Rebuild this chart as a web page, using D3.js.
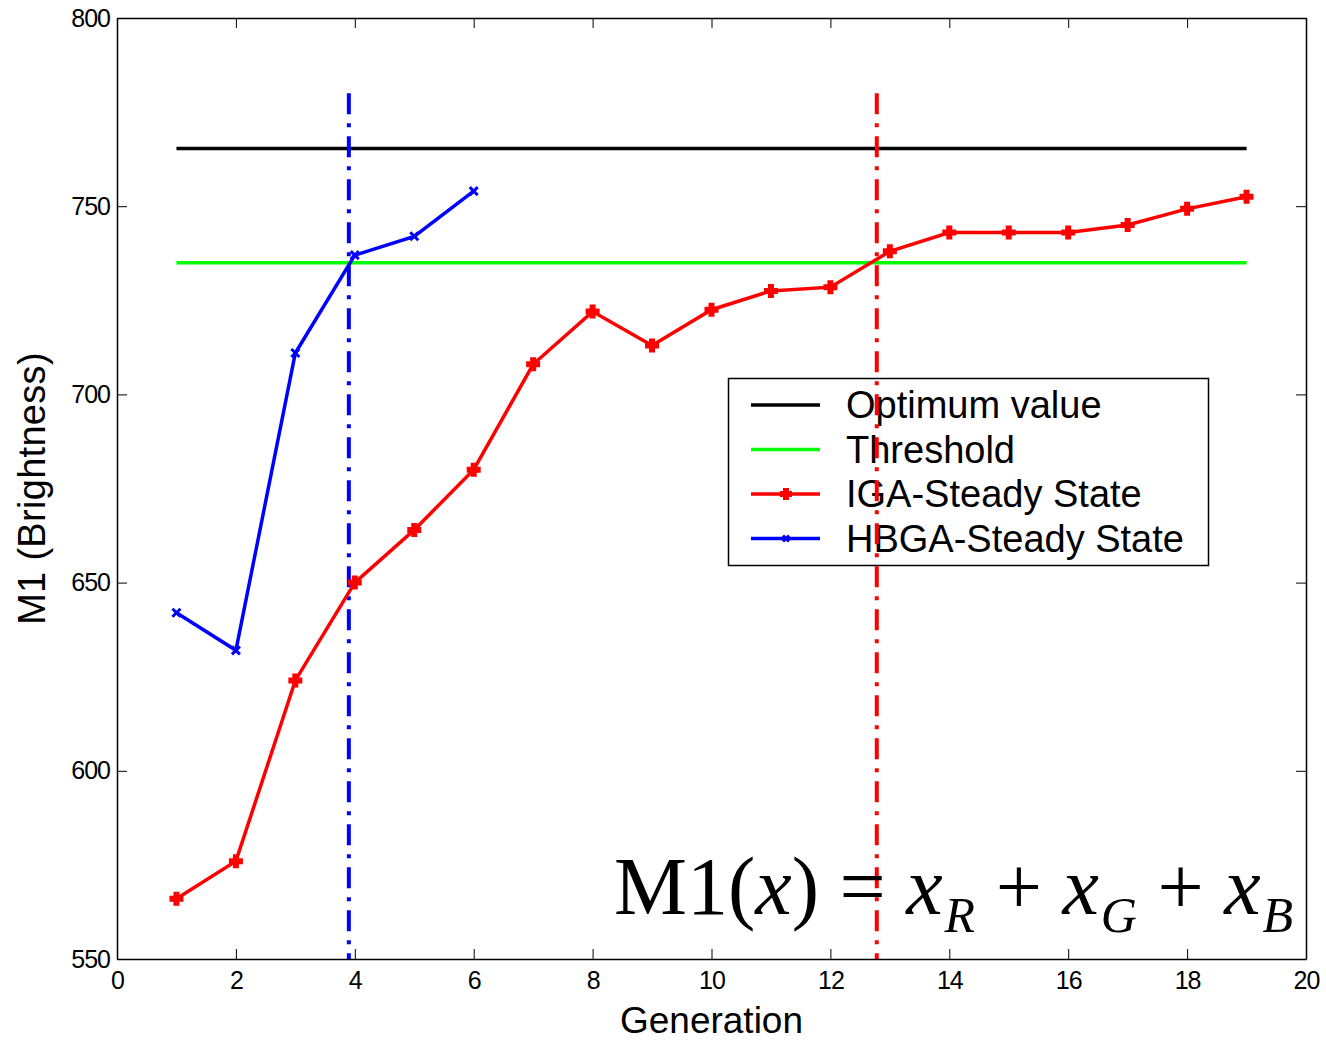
<!DOCTYPE html>
<html>
<head>
<meta charset="utf-8">
<script src="https://cdn.jsdelivr.net/npm/d3@7"></script>
<style>
  body { margin: 0; background: #fff; }
</style>
</head>
<body>
<div id="chart"></div>
<script>
// données
const generations = [1, 2, 3, 4, 5, 6, 7, 8, 9, 10, 11, 12, 13, 14, 15, 16, 17, 18, 19];
const iga = [566, 576, 624, 650, 664, 680, 708, 722, 713, 722.5, 727.5, 728.5, 738, 743, 743, 743, 745, 749.3, 752.5];
const hbgaGen = [1, 2, 3, 4, 5, 6];
const hbga = [642, 632, 711, 737, 742, 754];
const optimum = 765.3;
const threshold = 735;
const seuilHbga = 3.9;   // génération où HBGA franchit le seuil
const seuilIga = 12.78;  // génération où IGA franchit le seuil
const xTicks = [0, 2, 4, 6, 8, 10, 12, 14, 16, 18, 20];
const yTicks = [550, 600, 650, 700, 750, 800];
const legendLabels = ["Optimum value", "Threshold", "IGA-Steady State", "HBGA-Steady State"];
const legendColors = ["black", "#00ff00", "red", "blue"];

const W = 1326, H = 1041;
const m = {left: 117, right: 20, top: 18, bottom: 82};
const sans = "'Liberation Sans', Arial, Helvetica, sans-serif";
const serif = "'Liberation Serif', 'Times New Roman', serif";

const svg = d3.select("#chart").append("svg").attr("width", W).attr("height", H)
  .style("font-family", sans);

const x = d3.scaleLinear().domain([0, 20]).range([m.left, W - m.right]);
const y = d3.scaleLinear().domain([550, 800]).range([H - m.bottom, m.top]);

// axes (ticks vers l'intérieur, comme MATLAB)
const axB = svg.append("g").attr("transform", `translate(0,${y(550)})`)
  .call(d3.axisBottom(x).tickValues(xTicks).tickSizeInner(-10).tickSizeOuter(0).tickPadding(12));
const axT = svg.append("g").attr("transform", `translate(0,${y(800)})`)
  .call(d3.axisTop(x).tickValues(xTicks).tickSizeInner(-10).tickSizeOuter(0).tickFormat(""));
const axL = svg.append("g").attr("transform", `translate(${x(0)},0)`)
  .call(d3.axisLeft(y).tickValues(yTicks).tickSizeInner(-10).tickSizeOuter(0).tickPadding(7));
const axR = svg.append("g").attr("transform", `translate(${x(20)},0)`)
  .call(d3.axisRight(y).tickValues(yTicks).tickSizeInner(-10).tickSizeOuter(0).tickFormat(""));

[axB, axT, axL, axR].forEach(g => {
  g.select(".domain").attr("stroke", "black").attr("stroke-width", 1.5);
  g.selectAll(".tick line").attr("stroke", "black").attr("stroke-width", 1);
  g.selectAll(".tick text").attr("fill", "black")
    .style("font-family", sans).style("font-size", "25px").style("letter-spacing", "-1px");
});

// lignes horizontales
svg.append("line").attr("x1", x(1)).attr("x2", x(19)).attr("y1", y(optimum)).attr("y2", y(optimum))
  .attr("stroke", "black").attr("stroke-width", 3.5);
svg.append("line").attr("x1", x(1)).attr("x2", x(19)).attr("y1", y(threshold)).attr("y2", y(threshold))
  .attr("stroke", "#00ff00").attr("stroke-width", 3.5);

// lignes verticales en tirets-points
function verticale(g, c) {
  svg.append("line").attr("x1", x(g)).attr("x2", x(g)).attr("y1", y(780)).attr("y2", y(550))
    .attr("stroke", c).attr("stroke-width", 4).attr("stroke-dasharray", "21,9,4,9");
}
verticale(seuilHbga, "blue");

const ligne = d3.line().x(d => x(d[0])).y(d => y(d[1]));

function plus(sel, cx, cy, s, c) {
  sel.append("path").attr("d", `M${cx - s},${cy}L${cx + s},${cy}M${cx},${cy - s}L${cx},${cy + s}`)
    .attr("stroke", c).attr("stroke-width", 6);
}
function croix(sel, cx, cy, s, c) {
  sel.append("path").attr("d", `M${cx - s},${cy - s}L${cx + s},${cy + s}M${cx - s},${cy + s}L${cx + s},${cy - s}`)
    .attr("stroke", c).attr("stroke-width", 3);
}

// IGA
const igaPts = generations.map((g, i) => [g, iga[i]]);
svg.append("path").attr("d", ligne(igaPts)).attr("fill", "none").attr("stroke", "red").attr("stroke-width", 3.5);
igaPts.forEach(p => plus(svg, x(p[0]), y(p[1]), 7, "red"));

// HBGA
const hbgaPts = hbgaGen.map((g, i) => [g, hbga[i]]);
svg.append("path").attr("d", ligne(hbgaPts)).attr("fill", "none").attr("stroke", "blue").attr("stroke-width", 3.5);
hbgaPts.forEach(p => croix(svg, x(p[0]), y(p[1]), 4, "blue"));

// légende
const leg = svg.append("g");
leg.append("rect").attr("x", 728.5).attr("y", 378.5).attr("width", 480).attr("height", 187)
  .attr("fill", "white").attr("stroke", "black").attr("stroke-width", 1.5);
legendLabels.forEach((lab, i) => {
  const ly = 405 + i * 44.5;
  leg.append("line").attr("x1", 751).attr("x2", 820).attr("y1", ly).attr("y2", ly)
    .attr("stroke", legendColors[i]).attr("stroke-width", 3.5);
  if (i === 2) plus(leg, 786, ly, 6, "red");
  if (i === 3) croix(leg, 786, ly, 3, "blue");
  leg.append("text").attr("x", 846).attr("y", ly + 13).attr("fill", "black")
    .style("font-size", "38px").style("letter-spacing", "0px").text(lab);
});

// la ligne rouge passe par-dessus la légende
verticale(seuilIga, "red");

// titres des axes
svg.append("text").attr("x", x(10)).attr("y", 1033).attr("text-anchor", "middle")
  .style("font-size", "37px").text("Generation");
svg.append("text").attr("transform", `translate(45,${y(675)}) rotate(-90)`).attr("text-anchor", "middle")
  .style("font-size", "38px").style("letter-spacing", "0.3px").text("M1 (Brightness)");

// formule
const f = svg.append("text").attr("x", 614).attr("y", 914)
  .style("font-family", serif).style("font-size", "82px");
f.append("tspan").text("M1(");
f.append("tspan").style("font-style", "italic").text("x");
f.append("tspan").text(") = ");
f.append("tspan").style("font-style", "italic").text("x");
f.append("tspan").style("font-style", "italic").style("font-size", "50px").attr("dx", 2).attr("dy", 18).text("R");
f.append("tspan").attr("dy", -18).text(" + ");
f.append("tspan").style("font-style", "italic").text("x");
f.append("tspan").style("font-style", "italic").style("font-size", "50px").attr("dx", 2).attr("dy", 18).text("G");
f.append("tspan").attr("dy", -18).text(" + ");
f.append("tspan").style("font-style", "italic").text("x");
f.append("tspan").style("font-style", "italic").style("font-size", "50px").attr("dx", 2).attr("dy", 18).text("B");
</script>
</body>
</html>
